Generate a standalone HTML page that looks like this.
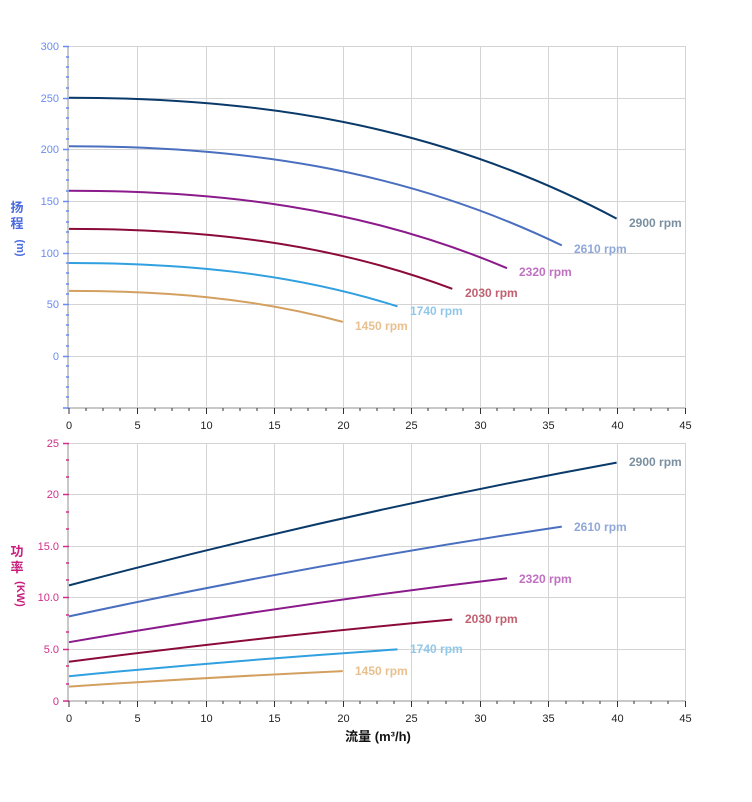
<!DOCTYPE html>
<html><head><meta charset="utf-8"><style>
body{margin:0;background:#fff;}
svg text{font-family:"Liberation Sans","Noto Sans CJK SC",sans-serif;}
</style></head><body>
<svg width="752" height="797" xmlns="http://www.w3.org/2000/svg">
<g stroke="#d4d4d4" stroke-width="1" fill="none">
<path d="M69 46.5H685M69 98.5H685M69 149.5H685M69 201.5H685M69 253.5H685M69 304.5H685M69 356.5H685"/>
<path d="M137.5 46V408M206.5 46V408M274.5 46V408M343.5 46V408M411.5 46V408M480.5 46V408M548.5 46V408M617.5 46V408M685.5 46V408"/>
<path d="M69 443.5H685M69 494.5H685M69 546.5H685M69 597.5H685M69 649.5H685"/>
<path d="M137.5 443V701M206.5 443V701M274.5 443V701M343.5 443V701M411.5 443V701M480.5 443V701M548.5 443V701M617.5 443V701M685.5 443V701"/>
</g>
<g stroke="#c8c8c8" stroke-width="2" fill="none"><path d="M68 46V408H685M68 443V701H685"/></g>
<g stroke="#6b8cf0" stroke-width="1.5" fill="none">
<path d="M63 46.5h6M63 98.5h6M63 149.5h6M63 201.5h6M63 253.5h6M63 304.5h6M63 356.5h6M63 408h6"/>
<path d="M66 57h3M66 67h3M66 77h3M66 88h3M66 108h3M66 118h3M66 129h3M66 139h3M66 160h3M66 170h3M66 180h3M66 191h3M66 211h3M66 222h3M66 232h3M66 242h3M66 263h3M66 273h3M66 284h3M66 294h3M66 315h3M66 325h3M66 335h3M66 346h3M66 366h3M66 377h3M66 387h3M66 397h3"/>
</g>
<g stroke="#d0308a" stroke-width="1.5" fill="none">
<path d="M63 443.5h6M63 494.5h6M63 546.5h6M63 597.5h6M63 649.5h6M63 701h6"/>
<path d="M66 460h3M66 477h3M66 512h3M66 529h3M66 563h3M66 580h3M66 615h3M66 632h3M66 666h3M66 684h3"/>
</g>
<g stroke="#333" stroke-width="1" fill="none">
<path d="M69 408v6M137.5 408v6M206.5 408v6M274.5 408v6M343.5 408v6M411.5 408v6M480.5 408v6M548.5 408v6M617.5 408v6M685.5 408v6"/>
<path d="M69 701v6M137.5 701v6M206.5 701v6M274.5 701v6M343.5 701v6M411.5 701v6M480.5 701v6M548.5 701v6M617.5 701v6M685.5 701v6"/>
<path d="M86 408v3M103 408v3M120 408v3M155 408v3M172 408v3M189 408v3M223 408v3M240 408v3M257 408v3M291 408v3M308 408v3M326 408v3M360 408v3M377 408v3M394 408v3M428 408v3M446 408v3M463 408v3M497 408v3M514 408v3M531 408v3M566 408v3M583 408v3M600 408v3M634 408v3M651 408v3M668 408v3"/>
<path d="M86 701v3M103 701v3M120 701v3M155 701v3M172 701v3M189 701v3M223 701v3M240 701v3M257 701v3M291 701v3M308 701v3M326 701v3M360 701v3M377 701v3M394 701v3M428 701v3M446 701v3M463 701v3M497 701v3M514 701v3M531 701v3M566 701v3M583 701v3M600 701v3M634 701v3M651 701v3M668 701v3"/>
</g>
<g font-size="11" fill="#6b8cf0" text-anchor="end">
<text x="59" y="50">300</text><text x="59" y="102">250</text><text x="59" y="153">200</text><text x="59" y="205">150</text><text x="59" y="257">100</text><text x="59" y="308">50</text><text x="59" y="360">0</text>
</g>
<g font-size="11" fill="#d0308a" text-anchor="end">
<text x="59" y="447">25</text><text x="59" y="498">20</text><text x="59" y="550">15.0</text><text x="59" y="601">10.0</text><text x="59" y="653">5.0</text><text x="59" y="705">0</text>
</g>
<g font-size="11" fill="#222" text-anchor="middle">
<text x="69" y="429">0</text><text x="137.5" y="429">5</text><text x="206.5" y="429">10</text><text x="274.5" y="429">15</text><text x="343.5" y="429">20</text><text x="411.5" y="429">25</text><text x="480.5" y="429">30</text><text x="548.5" y="429">35</text><text x="617.5" y="429">40</text><text x="685.5" y="429">45</text>
<text x="69" y="722">0</text><text x="137.5" y="722">5</text><text x="206.5" y="722">10</text><text x="274.5" y="722">15</text><text x="343.5" y="722">20</text><text x="411.5" y="722">25</text><text x="480.5" y="722">30</text><text x="548.5" y="722">35</text><text x="617.5" y="722">40</text><text x="685.5" y="722">45</text>
</g>
<text x="378" y="741" font-size="13" font-weight="bold" fill="#111" text-anchor="middle">流量 (m³/h)</text>
<g font-size="13" font-weight="bold" fill="#4a6ae0" text-anchor="middle">
<text x="17" y="212">扬</text><text x="17" y="228">程</text>
<text x="17" y="248" font-size="11" transform="rotate(90 17 248)" text-anchor="middle">(m)</text>
</g>
<g font-size="13" font-weight="bold" fill="#c81e7e" text-anchor="middle">
<text x="17" y="556">功</text><text x="17" y="572">率</text>
<text x="17" y="594" font-size="11" transform="rotate(90 17 594)" text-anchor="middle">(KW)</text>
</g>
<g fill="none" stroke-width="2">
<path d="M69 97.7C251.5 97.7 434.4 121.9 616.6 218.6" stroke="#0a3a6a"/>
<path d="M69 146.2C233.3 146.2 397.5 166 561.8 245.4" stroke="#4a6fbf"/>
<path d="M69 190.7C215 190.7 361 206.2 507 268.2" stroke="#8b1a8b"/>
<path d="M69 228.9C196.8 228.9 324.5 240.9 452.3 288.8" stroke="#8b0a3a"/>
<path d="M69 263C178.5 263 288 271.7 397.5 306.4" stroke="#30a0e0"/>
<path d="M69 290.9C160.3 290.9 251.5 297.1 342.8 321.9" stroke="#d4a060"/>
<path d="M69 585.4Q342.8 512.7 616.6 462.6" stroke="#0a3a6a"/>
<path d="M69 616.4Q315.4 563.4 561.8 526.6" stroke="#4a6fbf"/>
<path d="M69 642.2Q288 604.4 507 578.2" stroke="#8b1a8b"/>
<path d="M69 661.8Q260.6 636.8 452.3 619.5" stroke="#8b0a3a"/>
<path d="M69 676.2Q233.3 660.4 397.5 649.4" stroke="#30a0e0"/>
<path d="M69 686.6Q205.9 677.4 342.8 671.1" stroke="#d4a060"/>
</g>
<g font-size="12" font-weight="bold">
<text x="629" y="227" fill="#7a8fa0">2900 rpm</text>
<text x="574" y="253" fill="#90a8d8">2610 rpm</text>
<text x="519" y="276" fill="#c070c0">2320 rpm</text>
<text x="465" y="297" fill="#c06070">2030 rpm</text>
<text x="410" y="315" fill="#90c8ea">1740 rpm</text>
<text x="355" y="330" fill="#e8c090">1450 rpm</text>
<text x="629" y="466" fill="#7a8fa0">2900 rpm</text>
<text x="574" y="531" fill="#90a8d8">2610 rpm</text>
<text x="519" y="583" fill="#c070c0">2320 rpm</text>
<text x="465" y="623" fill="#c06070">2030 rpm</text>
<text x="410" y="653" fill="#90c8ea">1740 rpm</text>
<text x="355" y="675" fill="#e8c090">1450 rpm</text>
</g>
</svg>
</body></html>
